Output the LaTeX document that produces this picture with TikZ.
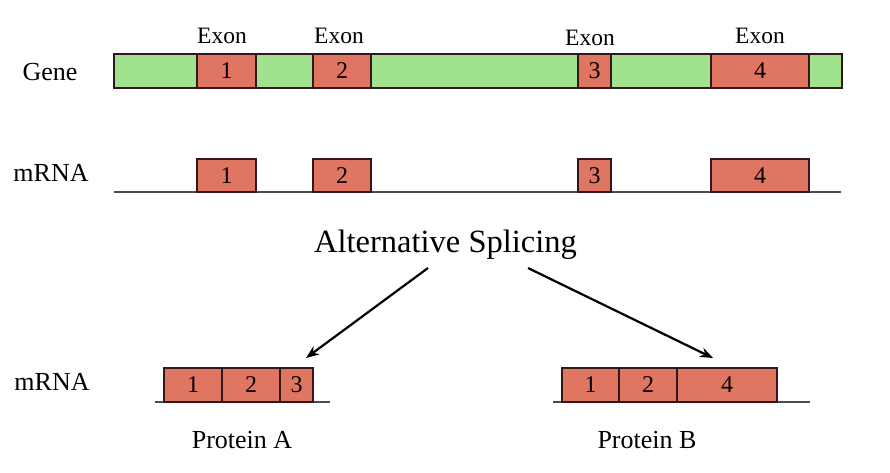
\documentclass[tikz,border=0pt]{standalone}
\usepackage{fontspec}
\setmainfont{Liberation Serif}
\usepackage{tikz}
\usetikzlibrary{%
  arrows,%
  arrows.meta,%
  positioning,% wg. " of "
  calc
}
\definecolor{genegreen}{RGB}{160,226,142}
\definecolor{exonred}{RGB}{224,118,98}
\definecolor{boxline}{RGB}{50,25,25}

\begin{document}
\begin{tikzpicture}[
  x=1pt, y=-1pt, >={Stealth[length=13pt,width=10pt]},
  genebar/.style={rectangle, minimum height=34pt, minimum width=728pt, draw=boxline, line width=1.1pt, fill=genegreen, inner sep=0pt},
  exonbox/.style={rectangle, minimum height=34pt, draw=boxline, line width=1.1pt, fill=exonred, inner sep=0pt, font=\fontsize{24}{26}\selectfont},
  exonlabel/.style={font=\fontsize{23.5}{25}\selectfont},
  rowlabel/.style={font=\fontsize{26}{28}\selectfont},
  strand/.style={draw=black!70, line width=1.1pt},
  splitarrow/.style={->, line width=2.2pt}
]
\useasboundingbox (0,0) rectangle (890,472);

% gene
\node[rowlabel] (lgene) at (50,72) {Gene};
\node[genebar] (gene) at (478,71) {};
\node[exonbox, minimum width=59pt] (ge1) at (226.5,71) {1};
\node[exonbox, minimum width=58pt] (ge2) at (342,71) {2};
\node[exonbox, minimum width=33pt] (ge3) at (594.5,71) {3};
\node[exonbox, minimum width=98pt] (ge4) at (760,71) {4};
\node[exonlabel] (x1) at (222,36) {Exon};
\node[exonlabel] (x2) at (339,36) {Exon};
\node[exonlabel] (x3) at (590,38) {Exon};
\node[exonlabel] (x4) at (760,36) {Exon};

% mRNA
\node[rowlabel] (lmrna) at (51,173) {mRNA};
\coordinate (m0) at (114,192);
\coordinate (m9) at (841,192);
\draw[strand] (m0) -- (m9);
\node[exonbox, minimum width=59pt, minimum height=33pt] (me1) at (226.5,175.5) {1};
\node[exonbox, minimum width=58pt, minimum height=33pt] (me2) at (342,175.5) {2};
\node[exonbox, minimum width=33pt, minimum height=33pt] (me3) at (594.5,175.5) {3};
\node[exonbox, minimum width=98pt, minimum height=33pt] (me4) at (760,175.5) {4};

% splicing
\node[font=\fontsize{32.5}{34}\selectfont] (splice) at (445.5,245) {Alternative Splicing};
\coordinate (sa) at (428,268);
\coordinate (sb) at (528,268);
\coordinate (ta) at (306,358);
\coordinate (tb) at (713,358);
\draw[splitarrow] (sa) -- (ta);
\draw[splitarrow] (sb) -- (tb);

% protein A
\node[rowlabel] (lmrna2) at (52,382) {mRNA};
\coordinate (a0) at (155,402);
\coordinate (a9) at (330,402);
\draw[strand] (a0) -- (a9);
\node[exonbox, minimum width=58pt] (pa1) at (193,385) {1};
\node[exonbox, minimum width=58pt] (pa2) at (251,385) {2};
\node[exonbox, minimum width=33pt] (pa3) at (296.5,385) {3};
\node[rowlabel] (lpa) at (242,440) {Protein A};

% protein B
\coordinate (b0) at (553,402);
\coordinate (b9) at (810,402);
\draw[strand] (b0) -- (b9);
\node[exonbox, minimum width=57pt] (pb1) at (590.5,385) {1};
\node[exonbox, minimum width=58pt] (pb2) at (648,385) {2};
\node[exonbox, minimum width=100pt] (pb4) at (727,385) {4};
\node[rowlabel] (lpb) at (647,440) {Protein B};
\end{tikzpicture}
\end{document}
